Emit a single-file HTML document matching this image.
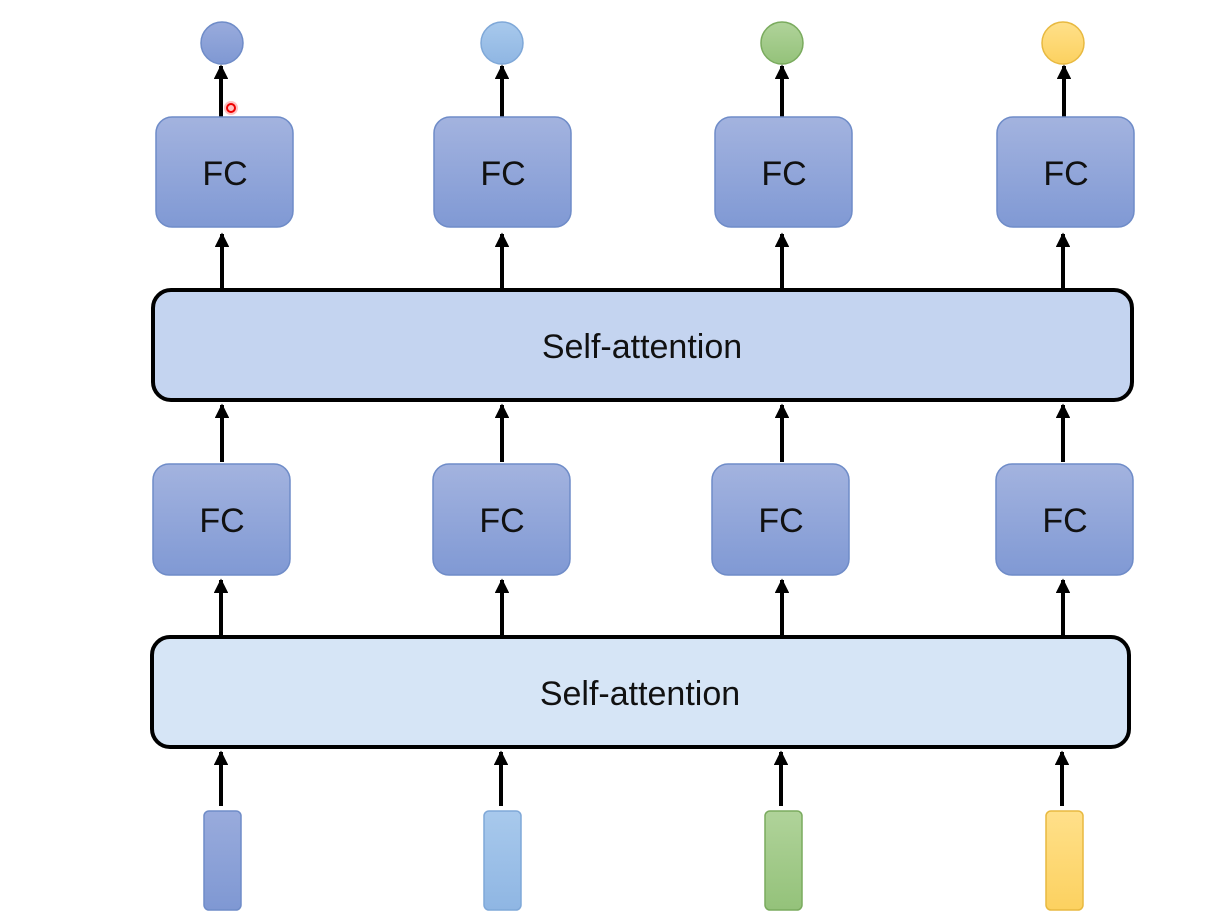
<!DOCTYPE html>
<html><head><meta charset="utf-8"><style>
html,body{margin:0;padding:0;background:#fff;width:1226px;height:924px;overflow:hidden}
text{font-family:"Liberation Sans","DejaVu Sans",sans-serif}
</style></head><body>
<svg width="1226" height="924" viewBox="0 0 1226 924" xmlns="http://www.w3.org/2000/svg">
<defs>
<linearGradient id="fc" x1="0" y1="0" x2="0" y2="1"><stop offset="0" stop-color="#a3b3df"/><stop offset="1" stop-color="#8099d4"/></linearGradient>
<linearGradient id="b1" x1="0" y1="0" x2="0" y2="1"><stop offset="0" stop-color="#99abdc"/><stop offset="1" stop-color="#7f98d3"/></linearGradient>
<linearGradient id="b2" x1="0" y1="0" x2="0" y2="1"><stop offset="0" stop-color="#a8c9ec"/><stop offset="1" stop-color="#8fb6e3"/></linearGradient>
<linearGradient id="b3" x1="0" y1="0" x2="0" y2="1"><stop offset="0" stop-color="#b0d39a"/><stop offset="1" stop-color="#94c27a"/></linearGradient>
<linearGradient id="b4" x1="0" y1="0" x2="0" y2="1"><stop offset="0" stop-color="#ffe08a"/><stop offset="1" stop-color="#fcd160"/></linearGradient>
<marker id="ah" viewBox="0 0 10 10" refX="9" refY="5" markerWidth="3.6" markerHeight="3.6" orient="auto"><path d="M0,0 L10,5 L0,10 z" fill="#000"/></marker>
</defs>
<!-- circles -->
<circle cx="222" cy="43" r="21" fill="url(#b1)" stroke="#6f8cc8" stroke-width="1.5"/>
<circle cx="502" cy="43" r="21" fill="url(#b2)" stroke="#7fa8d8" stroke-width="1.5"/>
<circle cx="782" cy="43" r="21" fill="url(#b3)" stroke="#7aab5e" stroke-width="1.5"/>
<circle cx="1063" cy="43" r="21" fill="url(#b4)" stroke="#e8b940" stroke-width="1.5"/>
<!-- arrows -->
<g stroke="#000" stroke-width="4" marker-end="url(#ah)">
<line x1="221" y1="117" x2="221" y2="66"/><line x1="502" y1="117" x2="502" y2="66"/><line x1="782" y1="117" x2="782" y2="66"/><line x1="1064" y1="117" x2="1064" y2="66"/>
<line x1="222" y1="289" x2="222" y2="234"/><line x1="502" y1="289" x2="502" y2="234"/><line x1="782" y1="289" x2="782" y2="234"/><line x1="1063" y1="289" x2="1063" y2="234"/>
<line x1="222" y1="462" x2="222" y2="405"/><line x1="502" y1="462" x2="502" y2="405"/><line x1="782" y1="462" x2="782" y2="405"/><line x1="1063" y1="462" x2="1063" y2="405"/>
<line x1="221" y1="636" x2="221" y2="580"/><line x1="502" y1="636" x2="502" y2="580"/><line x1="782" y1="636" x2="782" y2="580"/><line x1="1063" y1="636" x2="1063" y2="580"/>
<line x1="221" y1="806" x2="221" y2="752"/><line x1="501" y1="806" x2="501" y2="752"/><line x1="781" y1="806" x2="781" y2="752"/><line x1="1062" y1="806" x2="1062" y2="752"/>
</g>
<!-- top FC -->
<g fill="url(#fc)" stroke="#6f8cc8" stroke-width="1.5">
<rect x="156" y="117" width="137" height="110" rx="16"/><rect x="434" y="117" width="137" height="110" rx="16"/><rect x="715" y="117" width="137" height="110" rx="16"/><rect x="997" y="117" width="137" height="110" rx="16"/>
<rect x="153" y="464" width="137" height="111" rx="16"/><rect x="433" y="464" width="137" height="111" rx="16"/><rect x="712" y="464" width="137" height="111" rx="16"/><rect x="996" y="464" width="137" height="111" rx="16"/>
</g>
<g font-size="34" text-anchor="middle" fill="#111">
<text x="225" y="185">FC</text><text x="503" y="185">FC</text><text x="784" y="185">FC</text><text x="1066" y="185">FC</text>
<text x="222" y="532">FC</text><text x="502" y="532">FC</text><text x="781" y="532">FC</text><text x="1065" y="532">FC</text>
</g>
<!-- self attention -->
<rect x="153" y="290" width="979" height="110" rx="18" fill="#c4d4f0" stroke="#000" stroke-width="4"/>
<rect x="152" y="637" width="977" height="110" rx="18" fill="#d6e5f6" stroke="#000" stroke-width="4"/>
<g font-size="34" text-anchor="middle" fill="#111">
<text x="642" y="358">Self-attention</text>
<text x="640" y="705">Self-attention</text>
</g>
<!-- inputs -->
<rect x="204" y="811" width="37" height="99" rx="5" fill="url(#b1)" stroke="#6f8cc8" stroke-width="1.5"/>
<rect x="484" y="811" width="37" height="99" rx="5" fill="url(#b2)" stroke="#7fa8d8" stroke-width="1.5"/>
<rect x="765" y="811" width="37" height="99" rx="5" fill="url(#b3)" stroke="#7aab5e" stroke-width="1.5"/>
<rect x="1046" y="811" width="37" height="99" rx="5" fill="url(#b4)" stroke="#e8b940" stroke-width="1.5"/>
<!-- cursor -->
<circle cx="231" cy="108" r="7" fill="#f66" opacity="0.4"/>
<circle cx="231" cy="108" r="4" fill="none" stroke="#e00" stroke-width="2"/>
</svg>
</body></html>
